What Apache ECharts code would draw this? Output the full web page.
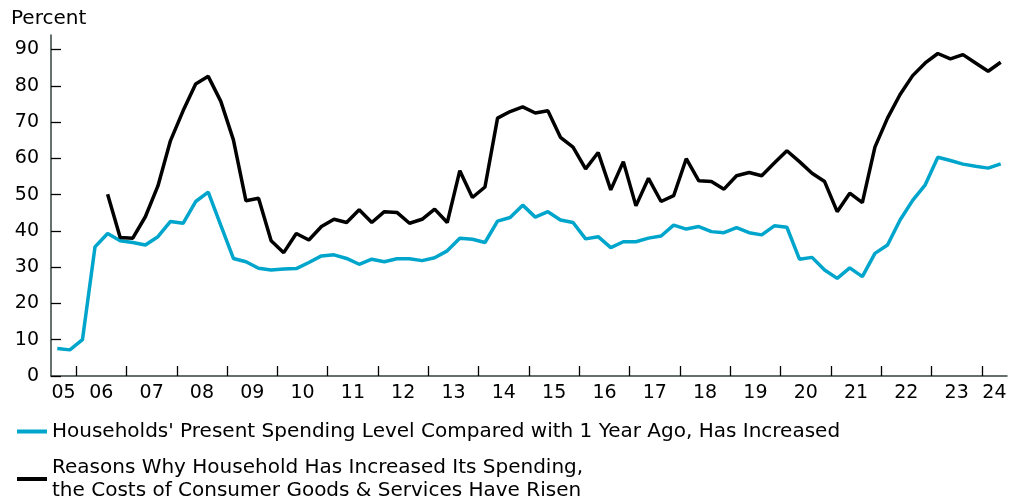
<!DOCTYPE html>
<html>
<head>
<meta charset="utf-8">
<script src="https://cdn.jsdelivr.net/npm/echarts@6/dist/echarts.min.js"></script>
<style>
  html, body { margin: 0; padding: 0; background: #fff; }
  #chart { width: 1015px; height: 502px; }
</style>
</head>
<body>
<div id="chart"></div>
<script>
const quarters = [
  '2005Q3', '2005Q4',
  '2006Q1', '2006Q2', '2006Q3', '2006Q4',
  '2007Q1', '2007Q2', '2007Q3', '2007Q4',
  '2008Q1', '2008Q2', '2008Q3', '2008Q4',
  '2009Q1', '2009Q2', '2009Q3', '2009Q4',
  '2010Q1', '2010Q2', '2010Q3', '2010Q4',
  '2011Q1', '2011Q2', '2011Q3', '2011Q4',
  '2012Q1', '2012Q2', '2012Q3', '2012Q4',
  '2013Q1', '2013Q2', '2013Q3', '2013Q4',
  '2014Q1', '2014Q2', '2014Q3', '2014Q4',
  '2015Q1', '2015Q2', '2015Q3', '2015Q4',
  '2016Q1', '2016Q2', '2016Q3', '2016Q4',
  '2017Q1', '2017Q2', '2017Q3', '2017Q4',
  '2018Q1', '2018Q2', '2018Q3', '2018Q4',
  '2019Q1', '2019Q2', '2019Q3', '2019Q4',
  '2020Q1', '2020Q2', '2020Q3', '2020Q4',
  '2021Q1', '2021Q2', '2021Q3', '2021Q4',
  '2022Q1', '2022Q2', '2022Q3', '2022Q4',
  '2023Q1', '2023Q2', '2023Q3', '2023Q4',
  '2024Q1', '2024Q2',
]

const yearLabels = [
  '05', '06', '07', '08', '09', '10', '11', '12', '13', '14',
  '15', '16', '17', '18', '19', '20', '21', '22', '23', '24',
]

// Households' present spending level compared with 1 year ago, has increased
const spendingUp = [
  7.6, 7.2, 10.0, 35.6, 39.3, 37.3, 36.8, 36.1, 38.4, 42.6,
  42.1, 48.1, 50.7, 41.5, 32.4, 31.5, 29.7, 29.2, 29.5, 29.6,
  31.3, 33.1, 33.4, 32.4, 30.8, 32.2, 31.5, 32.3, 32.3, 31.8,
  32.6, 34.5, 38.0, 37.7, 36.8, 42.7, 43.7, 47.1, 43.8, 45.3,
  43.0, 42.3, 37.8, 38.4, 35.4, 37.0, 37.0, 38.0, 38.6, 41.6,
  40.5, 41.2, 39.8, 39.5, 40.9, 39.5, 38.9, 41.4, 41.0, 32.2,
  32.7, 29.2, 26.9, 29.8, 27.4, 33.8, 36.1, 43.0, 48.4, 52.7,
  60.3, 59.4, 58.4, 57.8, 57.3, 58.5,
]

// reason for higher spending: costs of consumer goods & services have risen
const costsRisen = [
  null, null, null, null,
  50.1, 38.2, 38.0, 43.9, 52.4, 64.9, 73.1, 80.5, 82.6, 75.7,
  65.1, 48.3, 49.0, 37.3, 34.0, 39.3, 37.5, 41.2, 43.2, 42.3,
  45.8, 42.3, 45.3, 45.1, 42.1, 43.2, 46.0, 42.3, 56.6, 49.2,
  52.1, 71.1, 72.9, 74.2, 72.5, 73.1, 65.8, 63.1, 57.1, 61.6,
  51.3, 59.1, 46.9, 54.5, 48.1, 49.7, 59.9, 53.8, 53.6, 51.5,
  55.2, 56.1, 55.2, 58.7, 62.1, 59.1, 55.9, 53.6, 45.3, 50.4,
  47.8, 63.1, 71.1, 77.6, 82.8, 86.3, 88.9, 87.4, 88.6, 86.3,
  84.0, 86.5,
]

const yTicks = [0, 10, 20, 30, 40, 50, 60, 70, 80, 90]

// the source text is wide, DejaVu gets closest to its widths
const FONT = 'DejaVu Sans, Liberation Sans, Arial, sans-serif'
const AXIS_COLOR = '#34423b'

// year boundaries (ticks) and year centres (labels) in quarter units
const yearStarts = []
const yearCenters = []
const labelAt = {}
yearLabels.forEach((yy) => {
  const idx = quarters
    .map((q, i) => (q.slice(2, 4) === yy ? i : -1))
    .filter((i) => i >= 0)
  if (quarters[idx[0]].endsWith('Q1')) yearStarts.push(idx[0])
  const c = (idx[0] + idx[idx.length - 1] + 1) / 2
  yearCenters.push(c)
  labelAt[c] = yy
})

const chart = echarts.init(document.getElementById('chart'))

chart.setOption({
  animation: false,
  backgroundColor: '#fff',
  textStyle: { fontFamily: FONT },
  title: {
    text: 'Percent',
    left: 11,
    top: 9,
    padding: 0,
    textStyle: { fontFamily: FONT, fontSize: 20, fontWeight: 'normal', color: '#000' },
  },
  legend: {
    orient: 'vertical',
    left: 17,
    top: 420,
    height: 200,
    padding: 0,
    itemGap: 13,
    itemWidth: 30,
    itemHeight: 4,
    icon: 'rect',
    selectedMode: false,
    textStyle: { fontFamily: FONT, fontSize: 20, lineHeight: 23, color: '#000' },
  },
  grid: {
    left: 51,
    right: 8,
    top: 35,
    bottom: 126,
    containLabel: false,
    outerBoundsMode: 'none',
  },
  xAxis: [
    {
      type: 'category',
      data: quarters,
      boundaryGap: true,
      axisLine: { lineStyle: { color: AXIS_COLOR, width: 1.5 } },
      axisTick: { show: false },
      axisLabel: { show: false },
      splitLine: { show: false },
    },
    {
      type: 'value',
      position: 'bottom',
      min: 0,
      max: quarters.length,
      axisLine: { show: false },
      axisTick: {
        show: true,
        inside: true,
        length: 10,
        customValues: yearStarts,
        lineStyle: { color: '#000', width: 1.3 },
      },
      axisLabel: {
        customValues: yearCenters,
        formatter: (v) => labelAt[v] || '',
        margin: 8,
        fontSize: 19,
        fontFamily: FONT,
        color: '#000',
      },
      splitLine: { show: false },
    },
  ],
  yAxis: {
    type: 'value',
    min: 0,
    max: 94,
    axisLine: { show: true, lineStyle: { color: AXIS_COLOR, width: 1.5 } },
    axisTick: {
      show: true,
      inside: true,
      length: 10,
      customValues: yTicks,
      lineStyle: { color: '#000', width: 1.3 },
    },
    axisLabel: {
      customValues: yTicks,
      margin: 12,
      fontSize: 19,
      fontFamily: FONT,
      color: '#000',
    },
    splitLine: { show: false },
  },
  series: [
    {
      name: "Households' Present Spending Level Compared with 1 Year Ago, Has Increased",
      type: 'line',
      data: spendingUp,
      showSymbol: false,
      symbol: 'none',
      color: '#00a5cc',
      lineStyle: { width: 3.5, color: '#00a5cc' },
    },
    {
      name: 'Reasons Why Household Has Increased Its Spending,\nthe Costs of Consumer Goods & Services Have Risen',
      type: 'line',
      data: costsRisen,
      showSymbol: false,
      symbol: 'none',
      connectNulls: false,
      color: '#000',
      lineStyle: { width: 3.5, color: '#000' },
    },
  ],
})
</script>
</body>
</html>
